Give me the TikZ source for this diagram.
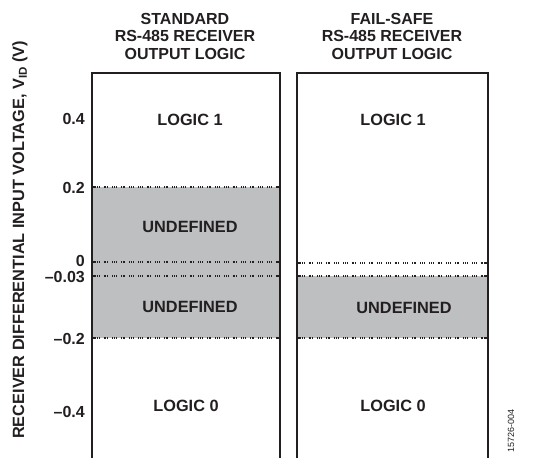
\documentclass[tikz,border=0pt]{standalone}
\usepackage{fontspec}
\setmainfont{Liberation Sans}
\definecolor{bandgray}{HTML}{BEBFC1}
\definecolor{ink}{HTML}{231F20}
\tikzset{
  lbl/.style={font=\fontsize{16.3}{18}\selectfont\bfseries, text=ink, inner sep=0pt},
  tick/.style={font=\fontsize{16}{18}\selectfont\bfseries, text=ink, anchor=east, inner sep=0pt},
  head/.style={font=\fontsize{16}{17.5}\selectfont\bfseries, text=ink, align=center, inner sep=0pt},
  wall/.style={draw=ink, line width=2pt},
  thresh/.style={draw=ink, line width=1.4pt, dash pattern=on 1pt off 0.8pt on 1pt off 0.8pt on 1pt off 4pt},
  band/.style={fill=bandgray},
}
\newcommand{\threshline}[3]{%
  \draw[thresh] (#1+3,#3) -- (#2-3,#3);
  \fill[ink] (#1,#3-1) rectangle (#1+3,#3+1);
  \fill[ink] (#2-3,#3-1) rectangle (#2,#3+1);
}
\begin{document}
\begin{tikzpicture}[x=1pt,y=-1pt]
  \useasboundingbox (0,0) rectangle (538,458);
  % shaded regions
  \fill[band] (92,187) rectangle (280,338);
  \fill[band] (297,276) rectangle (488,338);
  % threshold lines
  \threshline{92}{280}{187}
  \threshline{92}{280}{262}
  \threshline{92}{280}{276}
  \threshline{92}{280}{338}
  \threshline{297}{488}{263}
  \threshline{297}{488}{276}
  \threshline{297}{488}{338}
  % boxes
  \draw[wall] (92,458) -- (92,73) -- (280,73) -- (280,458);
  \draw[wall] (297,458) -- (297,73) -- (488,73) -- (488,458);
  % headings
  \node[head] (stdhead) at (185,36) {STANDARD\\RS-485 RECEIVER\\OUTPUT LOGIC};
  \node[head] (fshead) at (392,36) {FAIL-SAFE\\RS-485 RECEIVER\\OUTPUT LOGIC};
  % regions
  \node[lbl] (stdone) at (190,120) {LOGIC 1};
  \node[lbl] (stdundefa) at (190,227) {UNDEFINED};
  \node[lbl] (stdundefb) at (190,307) {UNDEFINED};
  \node[lbl] (stdzero) at (186,406) {LOGIC 0};
  \node[lbl] (fsone) at (393,120) {LOGIC 1};
  \node[lbl] (fsundef) at (404,308) {UNDEFINED};
  \node[lbl] (fszero) at (393,406) {LOGIC 0};
  % ticks
  \node[tick] (tpfour) at (85,119) {0.4};
  \node[tick] (tptwo) at (85,188) {0.2};
  \node[tick] (tzero) at (85,261) {0};
  \node[tick] (tmthree) at (85,277) {--0.03};
  \node[tick] (tmtwo) at (85,339) {--0.2};
  \node[tick] (tmfour) at (85,412) {--0.4};
  % axis label
  \node[lbl, font=\fontsize{16.3}{18}\selectfont\bfseries, rotate=90] (ylabel) at (20,240)
    {RECEIVER DIFFERENTIAL INPUT VOLTAGE, V\raisebox{-0.3ex}{\fontsize{11.5}{12}\selectfont ID} (V)};
  \node[font=\fontsize{9}{10}\selectfont, text=ink, rotate=90, inner sep=0pt] (figid) at (511,431) {15726-004};
\end{tikzpicture}
\end{document}
